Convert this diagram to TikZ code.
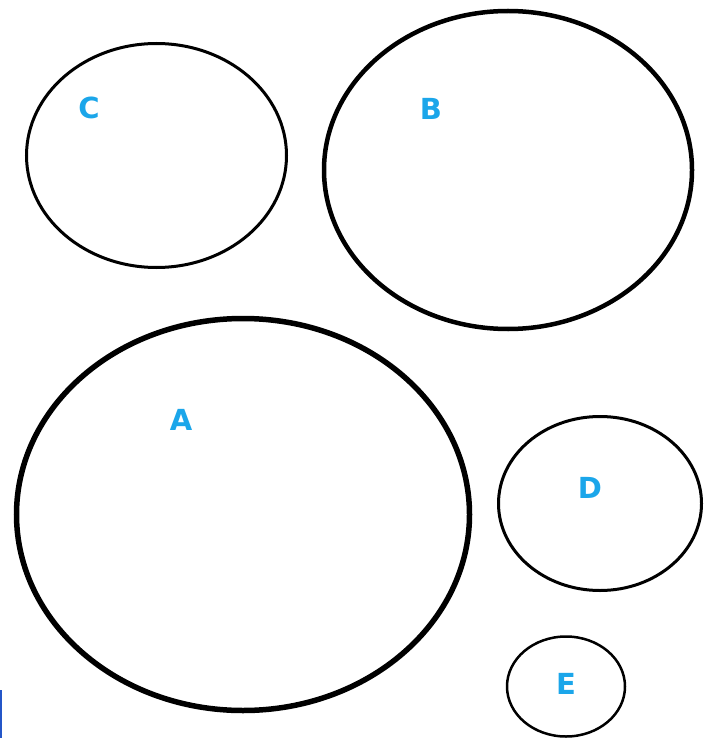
\documentclass[tikz,border=0pt]{standalone}
\usepackage{fontspec}
\setmainfont{DejaVu Sans}
\definecolor{lbl}{HTML}{1BA6EA}
\definecolor{edge}{HTML}{2456C8}
\tikzset{
  ring/.style={draw=black},
  lab/.style={text=lbl, font=\fontsize{29}{30}\selectfont\bfseries, inner sep=0pt}
}
\begin{document}
\begin{tikzpicture}[x=1pt,y=-1pt]
\useasboundingbox[fill=white] (0,0) rectangle (709,738);
\draw[ring, line width=3pt] (156.5,155.5) ellipse [x radius=130, y radius=112];
\draw[ring, line width=4.5pt] (508,170) ellipse [x radius=184, y radius=159];
\draw[ring, line width=5.5pt] (243,514.5) ellipse [x radius=226.5, y radius=196];
\draw[ring, line width=3pt] (600,503.5) ellipse [x radius=101.5, y radius=87];
\draw[ring, line width=2.5pt] (566,686.5) ellipse [x radius=59, y radius=50];
\node[lab] (C) at (89,108) {C};
\node[lab] (B) at (431,109) {B};
\node[lab] (A) at (181,420) {A};
\node[lab] (D) at (590,488) {D};
\node[lab] (E) at (566,684) {E};
\draw[edge, line width=2pt] (1,690) -- (1,738);
\end{tikzpicture}
\end{document}
